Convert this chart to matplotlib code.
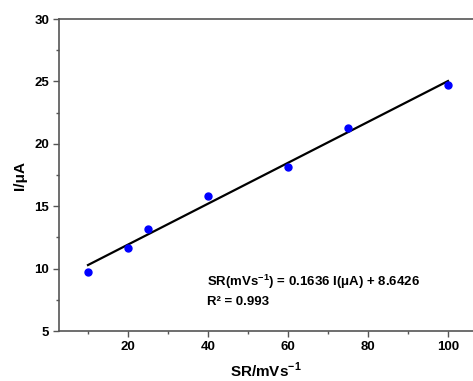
import numpy as np
import matplotlib
matplotlib.use('Agg')
import matplotlib.pyplot as plt
from matplotlib.ticker import MultipleLocator

# scan rate (mV/s) and peak current (uA)
scan_rate = [10, 20, 25, 40, 60, 75, 100]
current = [9.76, 11.68, 13.2, 15.85, 18.12, 21.24, 24.74]

eq_text = 'SR(mVs$^{\\mathbf{-1}}$) = 0.1636 I(\u03bcA) + 8.6426'
r2_text = 'R\u00b2 = 0.993'

plt.rcParams['font.family'] = 'Liberation Sans'
plt.rcParams['font.weight'] = 'bold'
plt.rcParams['mathtext.fontset'] = 'custom'
plt.rcParams['mathtext.rm'] = 'Liberation Sans:bold'
plt.rcParams['mathtext.bf'] = 'Liberation Sans:bold'

fig = plt.figure(figsize=(4.73, 3.81), dpi=100)
ax = fig.add_axes([59 / 473, 50 / 381, 414 / 473, 312 / 381])

# linear fit through the points
slope, icpt = np.polyfit(scan_rate, current, 1)
xs = np.array([scan_rate[0], scan_rate[-1]])
ax.plot(xs, slope * xs + icpt, color='black', lw=1.6, zorder=2)
ax.plot(scan_rate, current, 'o', color='#0000ff', ms=5, zorder=3)

ax.set_xlim(2.75, 106.25)
ax.set_ylim(5, 30)
ax.xaxis.set_major_locator(MultipleLocator(20))
ax.xaxis.set_minor_locator(MultipleLocator(10))
ax.yaxis.set_major_locator(MultipleLocator(5))
ax.yaxis.set_minor_locator(MultipleLocator(2.5))

spine_col = '#555555'
ax.spines['right'].set_visible(False)
for s in ['left', 'bottom', 'top']:
    ax.spines[s].set_color(spine_col)
    ax.spines[s].set_linewidth(1.2)
ax.tick_params(which='major', length=4, width=1, color=spine_col, labelsize=9.5, pad=3)
ax.tick_params(which='minor', length=2.5, width=1, color=spine_col)
for lbl in ax.get_xticklabels() + ax.get_yticklabels():
    lbl.set_fontweight('bold')

ax.set_xlabel('SR/mVs$^{\\mathbf{-1}}$', fontsize=11, fontweight='bold', labelpad=6)
ax.set_ylabel('I/\u03bcA', fontsize=11, fontweight='bold', labelpad=5)

ax.text(39.75, 8.96, eq_text, fontsize=9.5, fontweight='bold', va='center')
ax.text(39.75, 7.36, r2_text, fontsize=9.5, fontweight='bold', va='center')

fig.savefig('out.png', dpi=100)
